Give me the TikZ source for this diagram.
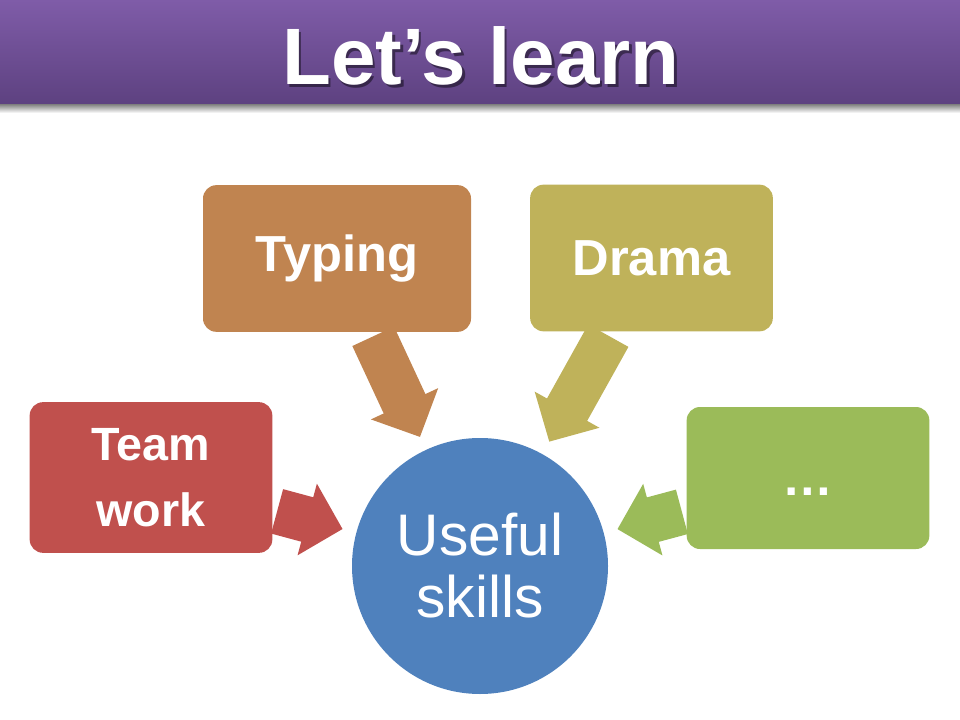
\documentclass[tikz,border=0pt]{standalone}
\usepackage{fontspec}
\setmainfont{Liberation Sans}
\usetikzlibrary{arrows.meta}

\definecolor{headtop}{HTML}{7F5CA8}
\definecolor{headbot}{HTML}{5D4180}
\definecolor{typingbrown}{HTML}{C08450}
\definecolor{dramaolive}{HTML}{BFB25A}
\definecolor{teamred}{HTML}{C0504D}
\definecolor{moregreen}{HTML}{9BBB59}
\definecolor{skillblue}{HTML}{4F81BD}

\tikzset{
  title/.style={anchor=base, text=white, font=\bfseries\fontsize{60}{72}\selectfont},
  topic/.style={rectangle, rounded corners=10pt, minimum width=182pt, minimum height=110pt,
                inner sep=0pt, align=center, text=white, font=\bfseries\fontsize{38}{46}\selectfont},
  core/.style={circle, minimum size=192pt, inner sep=0pt, align=center, fill=skillblue,
               text=white, font=\fontsize{44}{46.5}\selectfont},
  feed/.style={line width=34.5pt, shorten <=3.5pt, shorten >=10.5pt,
               -{Triangle[length=27.5pt,width=54pt]}}
}

\begin{document}
\begin{tikzpicture}[x=0.75pt,y=-0.75pt]
  \useasboundingbox (0,0) rectangle (960,720);

  % header bar
  \shade [top color=headtop, bottom color=headbot] (0,0) rectangle (960,105);
  \shade [top color=black!45, bottom color=white] (0,105) rectangle (960,113);

  % title
  \node (titleshadow) [title, text=black, opacity=.45] at (483.5,87.5) {Let’s learn};
  \node (title)       [title] at (481,85) {Let’s learn};

  % topics
  \node (typing) [topic, fill=typingbrown, minimum width=201pt] at (337,258.5) {Typing};
  \node (drama)  [topic, fill=dramaolive] at (651.5,258) {Drama};
  \node (team)   [topic, fill=teamred, minimum height=113pt,
                  font=\bfseries\fontsize{35}{49.5}\selectfont] at (151,477.5) {Team\\work};
  \node (more)   [topic, fill=moregreen, minimum height=106.5pt] at (808,478) {\strut\raisebox{-4pt}{…}};

  % centre
  \node (skills) [core] at (480,566) {Useful\\skills};

  % arrows into the centre
  \draw [feed, typingbrown] (typing) -- (skills);
  \draw [feed, dramaolive]  (drama)  -- (skills);
  \draw [feed, teamred]     (team)   -- (skills);
  \draw [feed, moregreen]   (more)   -- (skills);
\end{tikzpicture}
\end{document}
